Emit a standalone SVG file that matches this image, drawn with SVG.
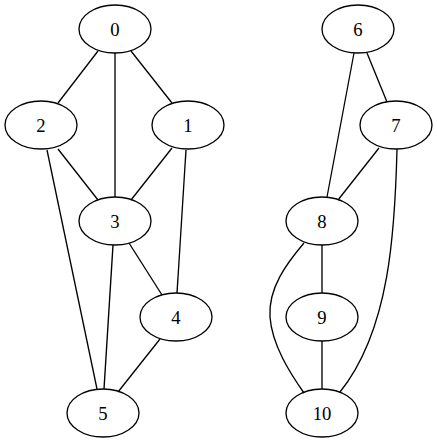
<svg xmlns="http://www.w3.org/2000/svg" width="437" height="443" viewBox="0 0 437 443">
<style>
.n ellipse{fill:none;stroke:#000;stroke-width:1.33}
.n text{font-family:"Liberation Serif","Times New Roman",serif;font-size:18.67px;text-anchor:middle;fill:#000}
#edges path{fill:none;stroke:#000;stroke-width:1.33}
</style>
<rect width="437" height="443" fill="#fff"/>
<g id="edges">
<path d="M98,51 L58,103"/>
<path d="M115,53 L115,197"/>
<path d="M131,51 L172,103"/>
<path d="M58,149 L98,200"/>
<path d="M172,148 L131,200"/>
<path d="M47,150 L97,389"/>
<path d="M186,150 L177,293"/>
<path d="M113,245 L104,389"/>
<path d="M129,243 L162,295"/>
<path d="M160,339 L118,392"/>
<path d="M354,53 L327,197"/>
<path d="M367,53 L387,102"/>
<path d="M379,148 L338,200"/>
<path d="M397,149 C395,230 390,330 340,392"/>
<path d="M304,243 C287,263 268,288 270,317 C272,345 290,373 304,393"/>
<path d="M322,245 L322,293"/>
<path d="M322,341 L322,389"/>
</g>
<g id="node0" class="n"><ellipse cx="115" cy="29" rx="36" ry="24"/><text x="115" y="35.5">0</text></g>
<g id="node1" class="n"><ellipse cx="188" cy="125" rx="36" ry="24"/><text x="188" y="131.5">1</text></g>
<g id="node2" class="n"><ellipse cx="41" cy="125" rx="36" ry="24"/><text x="41" y="131.5">2</text></g>
<g id="node3" class="n"><ellipse cx="115" cy="221" rx="36" ry="24"/><text x="115" y="227.5">3</text></g>
<g id="node4" class="n"><ellipse cx="176" cy="317" rx="36" ry="24"/><text x="176" y="323.5">4</text></g>
<g id="node5" class="n"><ellipse cx="103" cy="413" rx="36" ry="24"/><text x="103" y="419.5">5</text></g>
<g id="node6" class="n"><ellipse cx="358" cy="29" rx="36" ry="24"/><text x="358" y="35.5">6</text></g>
<g id="node7" class="n"><ellipse cx="396" cy="125" rx="36" ry="24"/><text x="396" y="131.5">7</text></g>
<g id="node8" class="n"><ellipse cx="322" cy="221" rx="36" ry="24"/><text x="322" y="227.5">8</text></g>
<g id="node9" class="n"><ellipse cx="322" cy="317" rx="36" ry="24"/><text x="322" y="323.5">9</text></g>
<g id="node10" class="n"><ellipse cx="322" cy="413" rx="36" ry="24"/><text x="322" y="419.5">10</text></g>
</svg>
